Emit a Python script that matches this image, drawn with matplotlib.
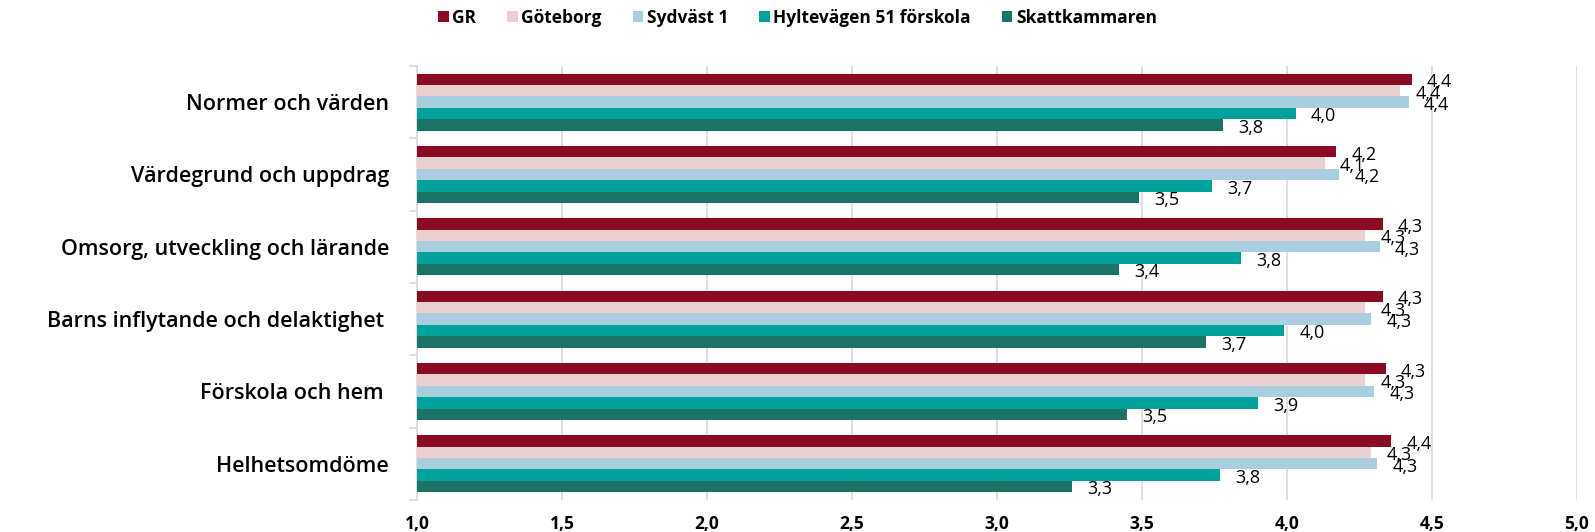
import matplotlib
matplotlib.use("Agg")
import matplotlib.pyplot as plt
import numpy as np

# Data
categories = [
    "Normer och värden",
    "Värdegrund och uppdrag",
    "Omsorg, utveckling och lärande",
    "Barns inflytande och delaktighet ",
    "Förskola och hem ",
    "Helhetsomdöme",
]
series_names = ["GR", "Göteborg", "Sydväst 1", "Hyltevägen 51 förskola", "Skattkammaren"]
gr = [4.43, 4.17, 4.33, 4.33, 4.34, 4.36]
goteborg = [4.39, 4.13, 4.27, 4.27, 4.27, 4.29]
sydvast = [4.42, 4.18, 4.32, 4.29, 4.30, 4.31]
hyltevagen = [4.03, 3.74, 3.84, 3.99, 3.90, 3.77]
skattkammaren = [3.78, 3.49, 3.42, 3.72, 3.45, 3.26]
x_ticks = [1.0, 1.5, 2.0, 2.5, 3.0, 3.5, 4.0, 4.5, 5.0]

colors = ["#8B0A24", "#EBCFD0", "#A8CEE0", "#00A19A", "#1B7267"]
all_series = [gr, goteborg, sydvast, hyltevagen, skattkammaren]

plt.rcParams["font.family"] = ["Open Sans", "DejaVu Sans"]

fig = plt.figure(figsize=(15.95, 5.32), dpi=100)
ax = fig.add_axes([0.2614, 0.0602, 0.7273, 0.8158])

bar_h = 0.157
y = np.arange(len(categories))
for i, (name, vals, col) in enumerate(zip(series_names, all_series, colors)):
    pos = y + (i - 2) * bar_h
    ax.barh(pos, np.array(vals) - 1.0, left=1.0, height=bar_h, color=col, label=name, zorder=3)
    for p, v in zip(pos, vals):
        ax.annotate(f"{v:.1f}".replace(".", ","), (v, p), xytext=(11, -2),
                    textcoords="offset points", ha="left", va="center",
                    fontsize=13, color="black", zorder=4)

ax.set_xlim(1, 5)
ax.set_ylim(len(categories) - 0.5, -0.5)
ax.set_xticks(x_ticks)
ax.set_xticklabels([f"{t:.1f}".replace(".", ",") for t in x_ticks], fontsize=12.5, fontweight="bold")
ax.set_yticks(y)
ax.set_yticklabels(categories, fontsize=15.5, fontweight="semibold")
ax.set_yticks(np.arange(-0.5, len(categories), 1.0), minor=True)

ax.tick_params(axis="x", length=0, pad=11)
ax.tick_params(axis="y", which="major", length=0, pad=20)
ax.tick_params(axis="y", which="minor", length=6, color="#D9D9D9", width=1.2)

ax.grid(axis="x", color="#D9D9D9", linewidth=1.2, zorder=0)
for s in ["top", "right", "bottom"]:
    ax.spines[s].set_visible(False)
ax.spines["left"].set_color("#D9D9D9")
ax.spines["left"].set_linewidth(1.2)

leg = fig.legend(loc="center", bbox_to_anchor=(0.5, 0.966), ncol=5, frameon=False,
                 handlelength=0.6, handleheight=0.6, handletextpad=0.2,
                 columnspacing=1.8, prop={"size": 12.5, "weight": "bold"})

fig.savefig("out.png", dpi=100)
